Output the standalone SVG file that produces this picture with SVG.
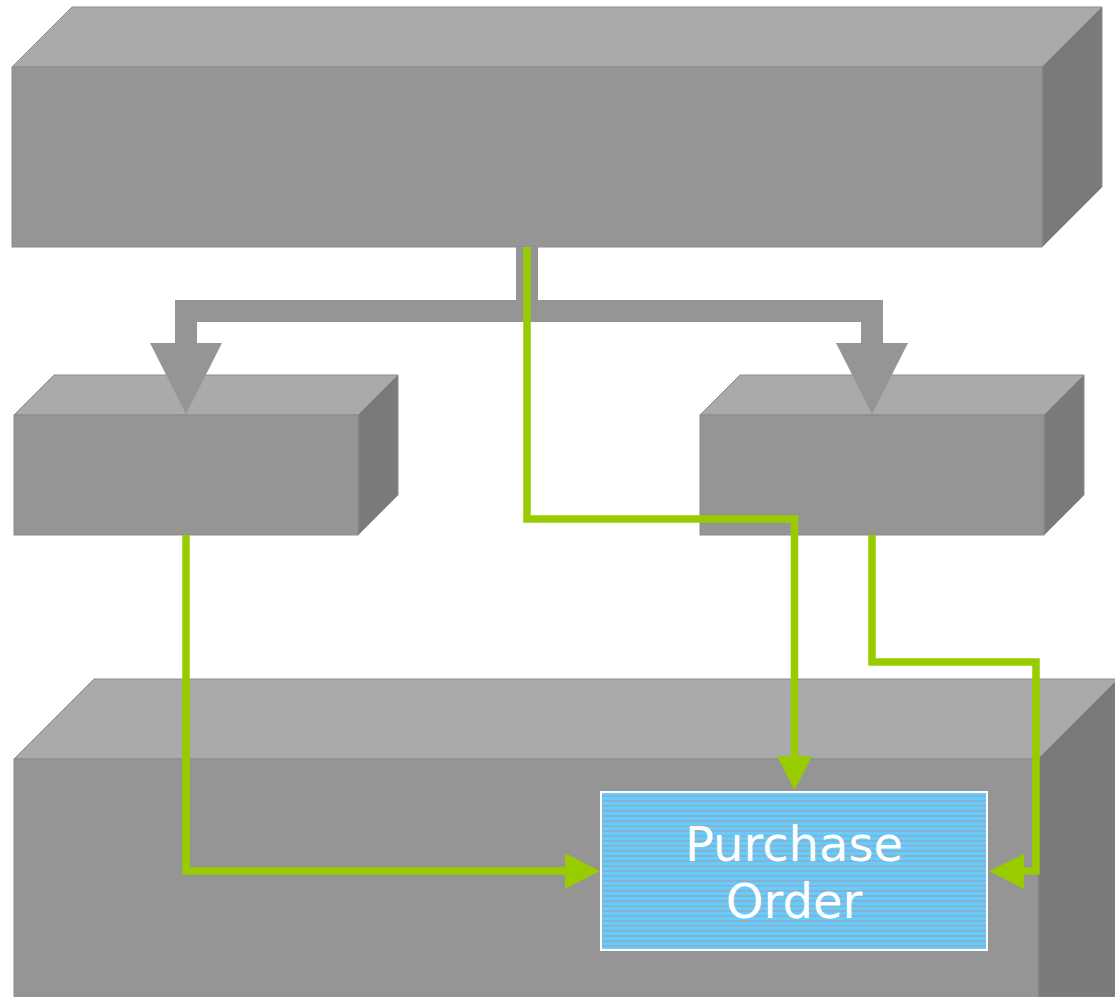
<svg xmlns="http://www.w3.org/2000/svg" width="1115" height="997" viewBox="0 0 1115 997">
<style>
.front{fill:#959595;stroke:#8c8c8c;stroke-width:1}
.top{fill:#aaaaaa;stroke:#8c8c8c;stroke-width:1}
.side{fill:#7a7a7a;stroke:#8c8c8c;stroke-width:1}
.gray{fill:#959595}
.green{fill:none;stroke:#99cc00;stroke-width:7.5;stroke-linejoin:miter}
.ghead{fill:#99cc00}
.label{font-family:"DejaVu Sans",sans-serif;font-size:48px;fill:#ffffff;text-anchor:middle}
</style>
<defs>
<pattern id="stripes" x="0" y="792" width="10" height="5" patternUnits="userSpaceOnUse">
<rect width="10" height="5" fill="#66ccff"/>
<rect y="3.5" width="10" height="1" fill="#a49a98"/>
</pattern>
</defs>
<rect width="1115" height="997" fill="#ffffff"/>
<g id="top-box">
<polygon class="top" points="12,67 72,7 1102,7 1042,67"/>
<polygon class="side" points="1042,67 1102,7 1102,187 1042,247"/>
<rect class="front" x="12" y="67" width="1030" height="180"/>
</g>
<g id="left-box">
<polygon class="top" points="14,415 54,375 398,375 358,415"/>
<polygon class="side" points="358,415 398,375 398,495 358,535"/>
<rect class="front" x="14" y="415" width="344" height="120"/>
</g>
<g id="right-box">
<polygon class="top" points="700,415 740,375 1084,375 1044,415"/>
<polygon class="side" points="1044,415 1084,375 1084,495 1044,535"/>
<rect class="front" x="700" y="415" width="344" height="120"/>
</g>
<g id="bottom-box">
<polygon class="top" points="14,759 94,679 1118,679 1038,759"/>
<polygon class="side" points="1038,759 1118,679 1118,997 1038,997"/>
<rect class="front" x="14" y="759" width="1024" height="240"/>
</g>
<g id="connectors">
<path class="gray" d="M516,247 L538,247 L538,300 L883,300 L883,343 L908,343 L872,414 L836,343 L861,343 L861,322 L197,322 L197,343 L222,343 L186,414 L150,343 L175,343 L175,300 L516,300 Z"/>
<polyline class="green" points="527,247 527,519 794.5,519 794.5,757"/>
<polygon class="ghead" points="777,756 812,756 794.5,790"/>
<polyline class="green" points="186,535 186,871 567,871"/>
<polygon class="ghead" points="565,853 565,889 600,871"/>
<polyline class="green" points="872,535 872,662 1036,662 1036,871 1022,871"/>
<polygon class="ghead" points="1024,854 1024,889 989,871"/>
</g>
<g id="purchase-order">
<rect x="601" y="792" width="386" height="158" fill="url(#stripes)" stroke="#ffffff" stroke-width="2"/>
<text class="label" x="794" y="861">Purchase</text>
<text class="label" x="794" y="918">Order</text>
</g>
</svg>
